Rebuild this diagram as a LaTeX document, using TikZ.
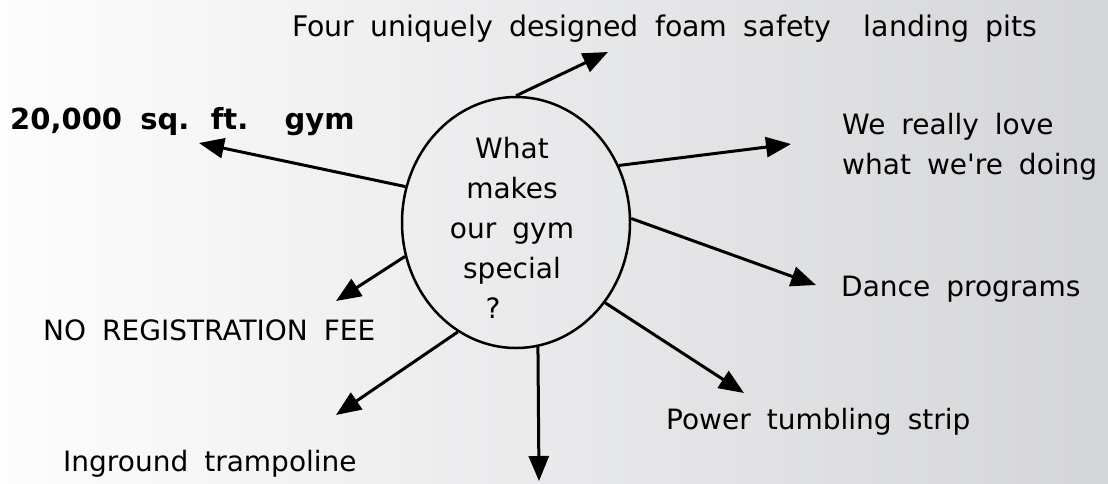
\documentclass[tikz,border=0pt]{standalone}
\usepackage{fontspec}
\setmainfont{DejaVu Sans}[WordSpace=1.8]
\usetikzlibrary{arrows.meta, shapes.geometric}
\definecolor{bgleft}{RGB}{253,253,253}
\definecolor{bgright}{RGB}{212,213,216}

\begin{document}
\begin{tikzpicture}[x=1pt, y=-1pt,
	lbl/.style={font=\fontsize{28}{40}\selectfont, inner sep=0pt},
	hub/.style={draw, ellipse, line width=2.5pt, minimum width=228pt, minimum height=251pt, inner sep=0pt},
	spoke/.style={line width=3pt, -{Triangle[length=25pt, width=20pt]}}]
	%background
	\useasboundingbox (0,0) rectangle (1108,483);
	\shade[left color=bgleft, right color=bgright] (0,0) rectangle (1108,483);
	
	%centre
	\node[hub] (hub) at (516,222.5) {};
	\node[lbl, align=center] (ask) at (512,228) {What\\makes\\our gym\\special\\?\hspace*{38pt}};
	
	%labels
	\node[lbl, anchor=base west, font=\fontsize{28.4}{40}\selectfont] (pits) at (292,36) {Four uniquely designed foam safety\ \ landing pits};
	\node[lbl, anchor=base west, font=\fontsize{29}{40}\selectfont\bfseries] (area) at (10,129) {20,000 sq. ft.\ \ gym};
	\node[lbl, anchor=west, align=left] (love) at (842,147) {We really love\\what we\textquotesingle re doing};
	\node[lbl, anchor=base west] (dance) at (841,296) {Dance programs};
	\node[lbl, anchor=base west] (strip) at (666,429) {Power tumbling strip};
	\node[lbl, anchor=base west] (fee) at (43,340) {NO REGISTRATION FEE};
	\node[lbl, anchor=base west] (tramp) at (63,471) {Inground trampoline};
	
	%arrow tips
	\coordinate (tpits) at (608,52);
	\coordinate (tarea) at (199,143);
	\coordinate (tlove) at (791,144);
	\coordinate (tdance) at (816,285);
	\coordinate (tstrip) at (744,393);
	\coordinate (tdown) at (539,481);
	\coordinate (ttramp) at (336,415);
	\coordinate (tfee) at (336,301);
	
	\foreach \a/\t in {90/tpits, 162.9/tarea, 29.2/tlove, 2.7/tdance, 318.2/tstrip, 280.4/tdown, 242.9/ttramp, 197.6/tfee}{
		\draw[spoke] (hub.\a) -- (\t);
	}
\end{tikzpicture}
\end{document}
